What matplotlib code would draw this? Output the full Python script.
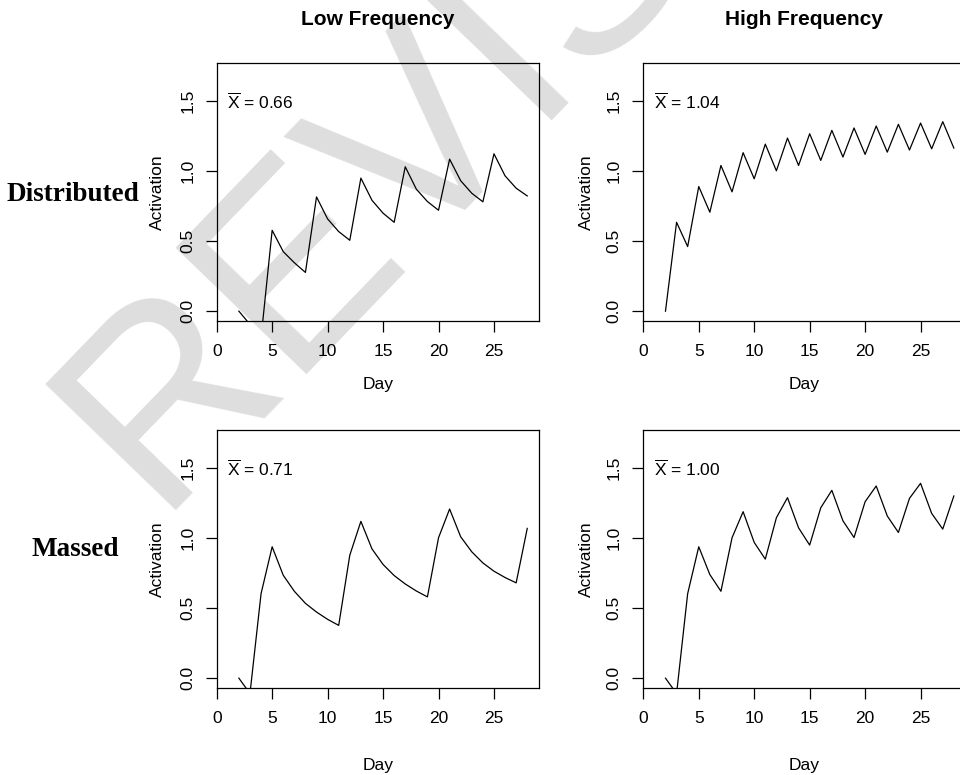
import matplotlib
matplotlib.use("Agg")
import matplotlib.pyplot as plt
import numpy as np

plt.rcParams['font.family'] = ['Liberation Sans', 'DejaVu Sans']
plt.rcParams['mathtext.fontset'] = 'custom'
plt.rcParams['mathtext.rm'] = 'Liberation Sans'
plt.rcParams['mathtext.it'] = 'Liberation Sans:italic'

days = list(range(2, 29))

dist_low = [0.0, -0.095, -0.19, 0.576, 0.424, 0.345, 0.276, 0.814, 0.657, 0.567, 0.505,
            0.948, 0.790, 0.698, 0.633, 1.029, 0.869, 0.781, 0.719, 1.083, 0.929, 0.840,
            0.779, 1.121, 0.964, 0.876, 0.821]
dist_high = [0.0, 0.633, 0.460, 0.888, 0.705, 1.038, 0.850, 1.129, 0.943, 1.190, 1.000,
             1.233, 1.038, 1.264, 1.074, 1.288, 1.098, 1.305, 1.117, 1.319, 1.133, 1.331,
             1.148, 1.340, 1.157, 1.350, 1.162]
mass_low = [0.0, -0.11, 0.602, 0.936, 0.733, 0.619, 0.533, 0.471, 0.419, 0.376, 0.876,
            1.117, 0.921, 0.810, 0.731, 0.671, 0.621, 0.579, 1.000, 1.205, 1.007, 0.900,
            0.821, 0.762, 0.717, 0.679, 1.067]
mass_high = [0.0, -0.11, 0.602, 0.936, 0.738, 0.619, 1.000, 1.186, 0.967, 0.848, 1.143,
             1.286, 1.071, 0.948, 1.214, 1.338, 1.121, 1.002, 1.257, 1.369, 1.155, 1.038,
             1.281, 1.388, 1.174, 1.062, 1.298]

means = ["0.66", "1.04", "0.71", "1.00"]
col_titles = ["Low Frequency", "High Frequency"]
row_titles = ["Distributed", "Massed"]
x_ticks = [0, 5, 10, 15, 20, 25]
y_ticks = [0.0, 0.5, 1.0, 1.5]
y_ticklabels = ["0.0", "0.5", "1.0", "1.5"]

W, H = 960, 775
fig = plt.figure(figsize=(9.6, 7.75), dpi=100)

# watermark
fig.text(154 / W, 1 - 510 / H, "REVISED", fontsize=189, color='#dedede',
         rotation=46, rotation_mode='anchor', ha='left', va='baseline', zorder=-5)

lefts = [216.7, 643.3]
tops = [63.0, 430.0]
aw, ah = 322.3, 257.7
series = [[dist_low, dist_high], [mass_low, mass_high]]
day_y = [384.0, 765.5]
act_x = [157.5, 586.7]

fs = 12.5
for r in range(2):
    for c in range(2):
        ax = fig.add_axes([lefts[c] / W, 1 - (tops[r] + ah) / H, aw / W, ah / H])
        ax.patch.set_alpha(0)
        ax.plot(days, series[r][c], color='black', lw=0.9)
        ax.set_xlim(0, 29.06)
        ax.set_ylim(-0.068, 1.768)
        ax.set_xticks(x_ticks)
        ax.set_xticklabels([str(v) for v in x_ticks])
        ax.set_yticks(y_ticks)
        ax.set_yticklabels(y_ticklabels, rotation=90, va='center')
        ax.tick_params(axis='both', direction='out', length=8, width=0.9,
                       labelsize=fs, colors='black')
        ax.tick_params(axis='x', pad=9)
        ax.tick_params(axis='y', pad=7.5)
        for sp in ax.spines.values():
            sp.set_linewidth(0.9)
        ax.text(0.5, -(day_y[r] - tops[r] - ah) / ah, "Day", transform=ax.transAxes,
                ha='center', va='center', fontsize=fs)
        ax.text((act_x[c] - lefts[c]) / aw, 0.5, "Activation", transform=ax.transAxes,
                ha='center', va='center', rotation=90, fontsize=fs)
        ax.text(0.95, 1.44, r'$\overline{\mathrm{X}}$' + " = " + means[r * 2 + c],
                ha='left', va='baseline', fontsize=fs)

# column titles
fig.text(377.8 / W, 1 - 19.5 / H, col_titles[0], ha='center', va='center',
         fontsize=15, fontweight='bold')
fig.text(804.2 / W, 1 - 19.5 / H, col_titles[1], ha='center', va='center',
         fontsize=15, fontweight='bold')
# row titles
fig.text(72.5 / W, 1 - 194.5 / H, row_titles[0], ha='center', va='center',
         fontsize=19.5, fontweight='bold', family='Liberation Serif')
fig.text(75 / W, 1 - 550 / H, row_titles[1], ha='center', va='center',
         fontsize=19.5, fontweight='bold', family='Liberation Serif')

fig.savefig("out.png", dpi=100)
